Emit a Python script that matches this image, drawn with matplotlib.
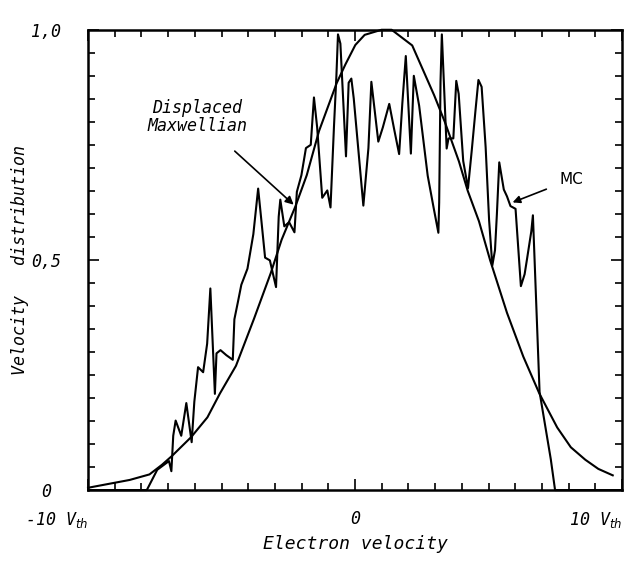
import matplotlib
matplotlib.use("Agg")
import matplotlib.pyplot as plt
from matplotlib.ticker import MultipleLocator, FixedLocator

# Monte Carlo distribution
mc_v = [-10.0, -7.94, -7.80, -7.41, -6.97, -6.88, -6.81, -6.72, -6.51, -6.32, -6.12,
        -6.02, -5.88, -5.69, -5.54, -5.42, -5.25, -5.19, -5.04, -4.82, -4.58, -4.52,
        -4.39, -4.26, -4.03, -3.81, -3.63, -3.52, -3.37, -3.19, -3.08, -2.96, -2.86,
        -2.80, -2.65, -2.47, -2.27, -2.18, -2.01, -1.84, -1.66, -1.54, -1.42, -1.23,
        -1.04, -0.92, -0.79, -0.70, -0.64, -0.55, -0.34, -0.24, -0.14, -0.05, 0.31,
        0.50, 0.61, 0.87, 1.04, 1.28, 1.46, 1.65, 1.77, 1.90, 2.09, 2.20, 2.40, 2.72,
        2.94, 3.12, 3.15, 3.20, 3.25, 3.43, 3.50, 3.68, 3.79, 3.88, 4.05, 4.23, 4.37,
        4.51, 4.62, 4.74, 4.89, 5.02, 5.14, 5.24, 5.31, 5.40, 5.57, 5.69, 5.82, 6.01,
        6.21, 6.35, 6.44, 6.60, 6.66, 6.91, 7.14, 7.33, 7.49, 10.0]
mc_f = [0.0, 0.0, 0.0, 0.044, 0.063, 0.041, 0.118, 0.151, 0.118, 0.189, 0.104,
        0.192, 0.267, 0.256, 0.318, 0.438, 0.209, 0.297, 0.304, 0.293, 0.283, 0.371,
        0.408, 0.446, 0.481, 0.556, 0.655, 0.592, 0.505, 0.499, 0.471, 0.441, 0.594,
        0.631, 0.573, 0.582, 0.560, 0.648, 0.684, 0.743, 0.750, 0.853, 0.788, 0.635,
        0.651, 0.614, 0.790, 0.899, 0.990, 0.970, 0.725, 0.885, 0.894, 0.851, 0.618,
        0.743, 0.887, 0.757, 0.788, 0.839, 0.785, 0.730, 0.840, 0.943, 0.731, 0.900,
        0.835, 0.683, 0.614, 0.559, 0.625, 0.887, 0.990, 0.742, 0.764, 0.764, 0.889,
        0.861, 0.715, 0.656, 0.738, 0.825, 0.891, 0.876, 0.745, 0.586, 0.488, 0.521,
        0.598, 0.712, 0.653, 0.638, 0.617, 0.611, 0.443, 0.469, 0.502, 0.562, 0.597,
        0.213, 0.133, 0.067, 0.0, 0.0]

# Displaced Maxwellian
mx_v = [-10.0, -8.44, -7.70, -7.23, -6.86, -6.14, -5.53, -5.06, -4.46, -3.78, -3.16,
        -2.75, -2.23, -1.81, -1.35, -0.69, -0.36, 0.01, 0.36, 0.99, 1.37, 2.14, 2.96,
        3.36, 3.89, 4.22, 4.64, 5.06, 5.69, 6.30, 6.90, 7.57, 8.08, 8.62, 9.11, 9.65]
mx_f = [0.005, 0.022, 0.034, 0.055, 0.074, 0.115, 0.158, 0.210, 0.270, 0.373, 0.471,
        0.544, 0.617, 0.684, 0.780, 0.884, 0.925, 0.967, 0.989, 1.0, 1.0, 0.966, 0.858,
        0.800, 0.714, 0.650, 0.584, 0.499, 0.385, 0.290, 0.210, 0.136, 0.093, 0.066,
        0.046, 0.032]

x_ticks = [-10, 0, 10]
x_labels = [r"-10 V$_{th}$", "0", r"10 V$_{th}$"]
y_ticks = [0, 0.5, 1.0]
y_labels = ["0", "0,5", "1,0"]

font = {"family": "DejaVu Sans Mono", "style": "italic"}

fig = plt.figure(figsize=(6.29, 5.62), dpi=100)
ax = fig.add_axes([0.140, 0.128, 0.849, 0.819])

ax.plot(mc_v, mc_f, color="black", lw=1.5, clip_on=False)
ax.plot(mx_v, mx_f, color="black", lw=1.5, clip_on=False)

ax.set_xlim(-10, 10)
ax.set_ylim(0, 1.0)

ax.xaxis.set_major_locator(FixedLocator(x_ticks))
ax.xaxis.set_minor_locator(MultipleLocator(1))
ax.yaxis.set_major_locator(FixedLocator(y_ticks))
ax.yaxis.set_minor_locator(MultipleLocator(0.05))
ax.set_xticklabels(x_labels, fontdict=font, fontsize=12)
ax.set_yticklabels(y_labels, fontdict=font, fontsize=12, ha="center")
ax.tick_params(which="both", direction="in", top=True, right=True, width=1.2)
ax.tick_params(which="major", length=8)
ax.tick_params(which="minor", length=5)
ax.tick_params(axis="y", pad=30)
ax.tick_params(axis="x", pad=14)
lbls = ax.get_xticklabels()
lbls[0].set_ha("right")
lbls[2].set_ha("right")

for s in ax.spines.values():
    s.set_linewidth(1.8)

ax.set_xlabel("Electron velocity", fontdict=font, fontsize=13, labelpad=4)
ax.set_ylabel("Velocity   distribution", fontdict=font, fontsize=12)
ax.yaxis.set_label_coords(-0.11, 0.5)

ax.annotate("Displaced\nMaxwellian", xy=(-2.3, 0.62), xytext=(-5.9, 0.81),
            ha="center", va="center", fontsize=12, family="DejaVu Sans Mono",
            style="italic", linespacing=1.0,
            arrowprops=dict(arrowstyle="-|>", color="black", lw=1.2,
                            shrinkA=14, shrinkB=0))
ax.annotate("MC", xy=(5.9, 0.625), xytext=(8.1, 0.675),
            ha="center", va="center", fontsize=11,
            arrowprops=dict(arrowstyle="-|>", color="black", lw=1.2,
                            shrinkA=8, shrinkB=0))

fig.savefig("out.png", dpi=100)
